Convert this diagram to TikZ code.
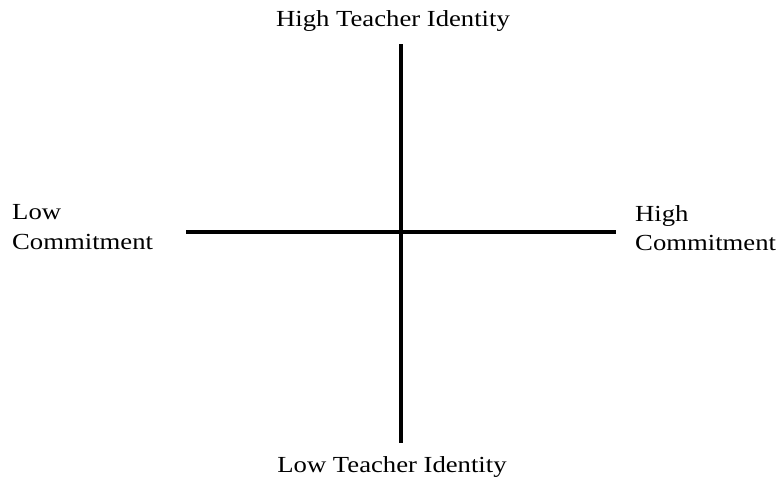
\documentclass[tikz,border=0pt]{standalone}
\usepackage{fontspec}
\setmainfont{Liberation Serif}[FakeStretch=1.16]
\begin{document}
\begin{tikzpicture}[x=1pt,y=-1pt,
  axis/.style={line width=4.5pt,black},
  lbl/.style={font=\fontsize{23}{29.5}\selectfont,inner sep=0pt},
  side/.style={lbl,align=left,anchor=west}]
\useasboundingbox (0,0) rectangle (779,482);
\coordinate (top) at (401,44);
\coordinate (bot) at (401,443);
\coordinate (lft) at (186,232);
\coordinate (rgt) at (616,232);
\draw[axis] (top) -- (bot);
\draw[axis] (lft) -- (rgt);
\node[lbl] (ht) at (393,21) {High Teacher Identity};
\node[lbl] (lt) at (392,467) {Low Teacher Identity};
\node[side] (lc) at (12,227) {Low\\Commitment};
\node[side] (hc) at (635,228) {High\\Commitment};
\end{tikzpicture}
\end{document}
